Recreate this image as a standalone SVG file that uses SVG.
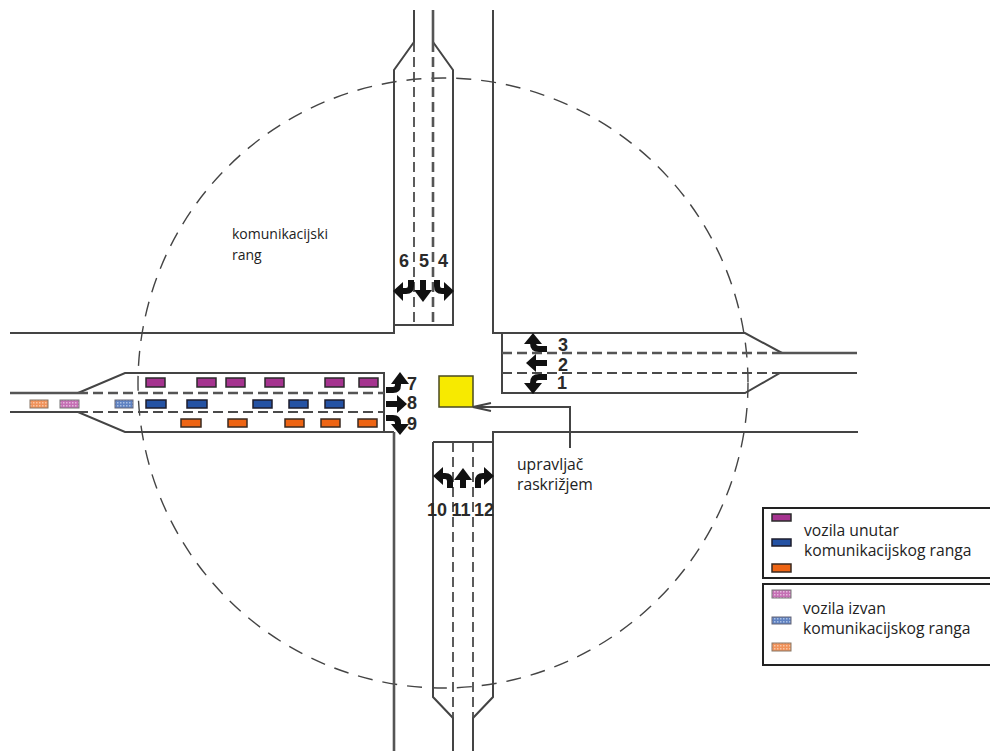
<svg xmlns="http://www.w3.org/2000/svg" width="990" height="751" viewBox="0 0 990 751">
<style>
.r{fill:none;stroke:#444;stroke-width:2}
.g{fill:none;stroke:#555;stroke-width:2.6}
.d{fill:none;stroke:#4a4a4a;stroke-width:1.8;stroke-dasharray:10 5}
.e{fill:none;stroke:#555;stroke-width:2.6;stroke-dasharray:10 5}
.c{fill:none;stroke:#444;stroke-width:1.4;stroke-dasharray:15 10}
.s{fill:none;stroke:#111;stroke-width:6}
.h{fill:#111}
.n{font:bold 18px "Liberation Sans",Arial,sans-serif;fill:#2a2a2a;text-anchor:middle}
.t{font:14px "Open Sans","Noto Sans",sans-serif;fill:#222}
.u{font:15.7px "Open Sans","Noto Sans",sans-serif;fill:#222}
.p{fill:#a5338f;stroke:#2b2b2b;stroke-width:1.5}
.b{fill:#2452a4;stroke:#1c1c2c;stroke-width:1.5}
.o{fill:#ee6413;stroke:#3a2a20;stroke-width:1.5}
.hp{fill:url(#hp);stroke:#777;stroke-width:1}
.hb{fill:url(#hb);stroke:#667;stroke-width:1}
.ho{fill:url(#ho);stroke:#876;stroke-width:1}
</style>
<defs>
<pattern id="hp" width="3" height="3" patternUnits="userSpaceOnUse"><rect width="3" height="3" fill="#c56fb4"/><rect width="1.5" height="1.5" fill="#e3b8dc"/></pattern>
<pattern id="hb" width="3" height="3" patternUnits="userSpaceOnUse"><rect width="3" height="3" fill="#5f82c2"/><rect width="1.5" height="1.5" fill="#a9bfe2"/></pattern>
<pattern id="ho" width="3" height="3" patternUnits="userSpaceOnUse"><rect width="3" height="3" fill="#f0925a"/><rect width="1.5" height="1.5" fill="#f8c5a3"/></pattern>
</defs>
<circle id="range" class="c" cx="443" cy="383" r="305"/>
<g id="roads">
<path class="r" d="M10 333H394V70L414 42V10"/>
<path class="g" d="M433 10V42"/>
<path class="r" d="M433 42L453 70V325H394"/>
<path class="r" d="M493 10V333H745L782 353"/>
<path class="g" d="M782 353H857"/>
<path class="r" d="M857 373H780L745 393H502V333"/>
<path class="g" d="M10 393H78"/>
<path class="r" d="M78 393L125 373H384V432H125L78 412H10"/>
<path class="r" d="M384 432H394"/>
<path class="g" d="M394 432V751"/>
<path class="r" d="M433 442H493M433 442V697L453 718V751M473 751V718L493 697V432H858"/>
<path class="d" d="M414 42V325M502 373H780M78 412H384M453 442V718M473 442V718"/>
<path class="e" d="M433 42V325M502 353H782M78 393H384"/>
</g>
<g id="vehicles-inside">
<rect class="p" x="146" y="378" width="19" height="9"/><rect class="p" x="197" y="378" width="19" height="9"/><rect class="p" x="226" y="378" width="19" height="9"/><rect class="p" x="265" y="378" width="19" height="9"/><rect class="p" x="325" y="378" width="19" height="9"/><rect class="p" x="359" y="378" width="19" height="9"/>
<rect class="b" x="146" y="400" width="20" height="8"/><rect class="b" x="187" y="400" width="20" height="8"/><rect class="b" x="253" y="400" width="19" height="8"/><rect class="b" x="289" y="400" width="19" height="8"/><rect class="b" x="325" y="400" width="19" height="8"/>
<rect class="o" x="181" y="419" width="20" height="8"/><rect class="o" x="228" y="419" width="19" height="8"/><rect class="o" x="285" y="419" width="19" height="8"/><rect class="o" x="321" y="419" width="19" height="8"/><rect class="o" x="358" y="419" width="19" height="8"/>
</g>
<g id="vehicles-outside">
<rect class="ho" x="30" y="400" width="18" height="8"/><rect class="hp" x="60" y="400" width="19" height="8"/><rect class="hb" x="115" y="400" width="18" height="8"/>
</g>
<g id="movements">
<path class="s" d="M411 280V286Q411 291 406 291H401"/><path class="h" d="M403 282V301L393 291Z"/>
<path class="s" d="M423 280V292"/><path class="h" d="M414 290H432L423 302Z"/>
<path class="s" d="M437 280V286Q437 291 442 291H446"/><path class="h" d="M444 282V301L454 291Z"/>
<path class="s" d="M547 349H539Q533 349 533 343V342"/><path class="h" d="M524 344H542L533 333Z"/>
<path class="s" d="M547 363H534"/><path class="h" d="M536 354V372L526 363Z"/>
<path class="s" d="M547 377H539Q533 377 533 383V385"/><path class="h" d="M524 383H542L533 394Z"/>
<path class="s" d="M386 390H393Q398 390 398 385V382"/><path class="h" d="M391 384H409L400 372Z"/>
<path class="s" d="M386 404H398"/><path class="h" d="M397 395V413L407 404Z"/>
<path class="s" d="M386 418H393Q398 418 398 423V426"/><path class="h" d="M391 424H409L400 435Z"/>
<path class="s" d="M450 488V481Q450 476 445 476H440"/><path class="h" d="M443 467V485L433 476Z"/>
<path class="s" d="M463 488V477"/><path class="h" d="M454 480H472L463 468Z"/>
<path class="s" d="M478 488V481Q478 476 483 476H487"/><path class="h" d="M484 467V485L494 476Z"/>
<text class="n" x="404" y="267">6</text><text class="n" x="424" y="267">5</text><text class="n" x="443" y="267">4</text>
<text class="n" x="563" y="351">3</text><text class="n" x="563" y="371">2</text><text class="n" x="562" y="389">1</text>
<text class="n" x="412" y="390">7</text><text class="n" x="412" y="409">8</text><text class="n" x="412" y="430">9</text>
<text class="n" x="437" y="516">10</text><text class="n" x="461" y="516">11</text><text class="n" x="484" y="516">12</text>
</g>
<g id="controller">
<rect x="439" y="376" width="34" height="31" fill="#f7ea00" stroke="#4a4a20" stroke-width="1.5"/>
<path class="r" d="M570 448V407H473M491 403L473 407L491 411"/>
<text class="u" x="517" y="470">upravljač</text><text class="u" x="517" y="490">raskrižjem</text>
</g>
<g id="range-label"><text class="t" x="232" y="239">komunikacijski</text><text class="t" x="232" y="260">rang</text></g>
<g id="legend-inside">
<rect x="763" y="508" width="228" height="70" fill="#fff" stroke="#222" stroke-width="2"/>
<rect class="p" x="772" y="514" width="19" height="7"/><rect class="b" x="772" y="539" width="19" height="7"/><rect class="o" x="772" y="564" width="19" height="8"/>
<text class="u" x="804" y="536">vozila unutar</text><text class="u" x="804" y="556">komunikacijskog ranga</text>
</g>
<g id="legend-outside">
<rect x="763" y="584" width="228" height="81" fill="#fff" stroke="#222" stroke-width="2"/>
<rect class="hp" x="772" y="590" width="19" height="8"/><rect class="hb" x="772" y="617" width="19" height="7"/><rect class="ho" x="772" y="643" width="19" height="8"/>
<text class="u" x="803" y="614">vozila izvan</text><text class="u" x="803" y="634">komunikacijskog ranga</text>
</g>
</svg>
